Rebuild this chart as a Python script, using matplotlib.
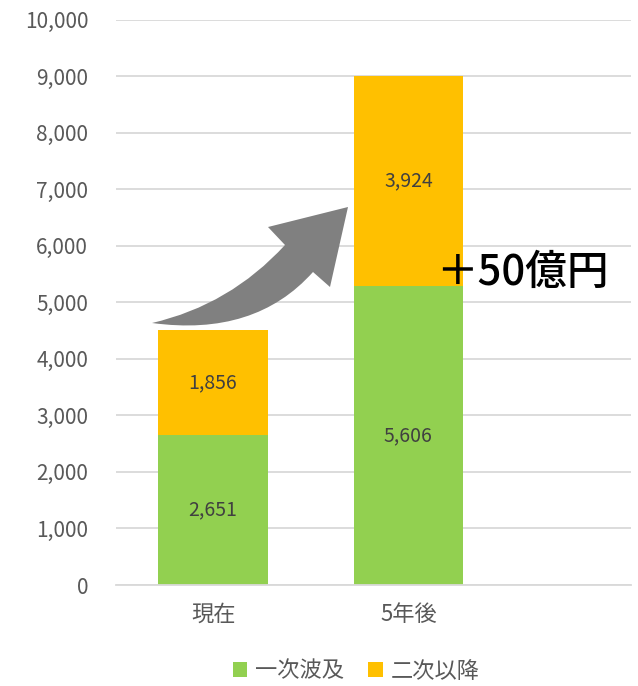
import matplotlib.pyplot as plt
from matplotlib.path import Path
from matplotlib.patches import PathPatch

plt.rcParams["font.family"] = ["Noto Sans CJK JP", "DejaVu Sans"]

categories = ["現在", "5年後", ""]
primary = [2651, 5280, 0]        # drawn heights (一次波及)
secondary = [1856, 3720, 0]      # drawn heights (二次以降)
primary_labels = ["2,651", "5,606"]
secondary_labels = ["1,856", "3,924"]
yticks = list(range(0, 10001, 1000))
callout = "＋50億円"

GREEN = "#92D050"
ORANGE = "#FFC000"
GRID = "#D9D9D9"
TICK = "#595959"

W, H = 638, 686
fig = plt.figure(figsize=(W / 100, H / 100), dpi=100)
ax = fig.add_axes([116 / W, 1 - 585 / H, (631 - 116) / W, (585 - 19.5) / H])

x = list(range(len(categories)))
ax.bar(x, primary, width=0.56, color=GREEN, label="一次波及", zorder=2)
ax.bar(x, secondary, width=0.56, bottom=primary, color=ORANGE, label="二次以降", zorder=2)

for i in range(len(primary_labels)):
    ax.text(x[i], primary[i] / 2, primary_labels[i], ha="center", va="center",
            fontsize=14, color="#404040", zorder=3)
    ax.text(x[i], primary[i] + secondary[i] / 2, secondary_labels[i], ha="center",
            va="center", fontsize=14, color="#404040", zorder=3)

ax.set_xlim(-0.497, 2.14)
ax.set_ylim(0, 10000)
ax.set_yticks(yticks)
ax.set_yticklabels([f"{v:,}" for v in yticks])
ax.set_xticks(x)
ax.set_xticklabels(categories)
ax.tick_params(axis="y", length=0, pad=20, labelsize=15, labelcolor=TICK)
ax.tick_params(axis="x", length=0, pad=13, labelsize=16, labelcolor=TICK)
ax.grid(axis="y", color=GRID, linewidth=1.3, zorder=0)
ax.set_axisbelow(True)
for s in ["top", "right", "left"]:
    ax.spines[s].set_visible(False)
ax.spines["bottom"].set_color(GRID)
ax.spines["bottom"].set_linewidth(1.3)

# curved gray arrow (image pixel coords -> figure fraction)
pts = [
    (152, 323), (230, 305), (285, 245),     # upper body edge
    (268, 227), (348, 207), (330, 287),     # arrow head
    (313, 272), (255, 337), (152, 323),     # lower body edge back to tail
]
codes = [Path.MOVETO, Path.CURVE3, Path.CURVE3,
         Path.LINETO, Path.LINETO, Path.LINETO,
         Path.LINETO, Path.CURVE3, Path.CURVE3]
verts = [(px / W, 1 - py / H) for px, py in pts]
fig.patches.append(PathPatch(Path(verts, codes), facecolor="#808080",
                             edgecolor="none", transform=fig.transFigure))

fig.text(436 / W, 1 - 272 / H, callout, ha="left", va="center",
         fontsize=30, fontweight="medium", color="black")

fig.legend(loc="center", bbox_to_anchor=(356 / W, 1 - 671 / H), ncol=2,
           frameon=False, fontsize=16, handlelength=0.65, handleheight=0.65,
           columnspacing=1.1, handletextpad=0.35, labelcolor=TICK)

fig.savefig("out.png", dpi=100)
